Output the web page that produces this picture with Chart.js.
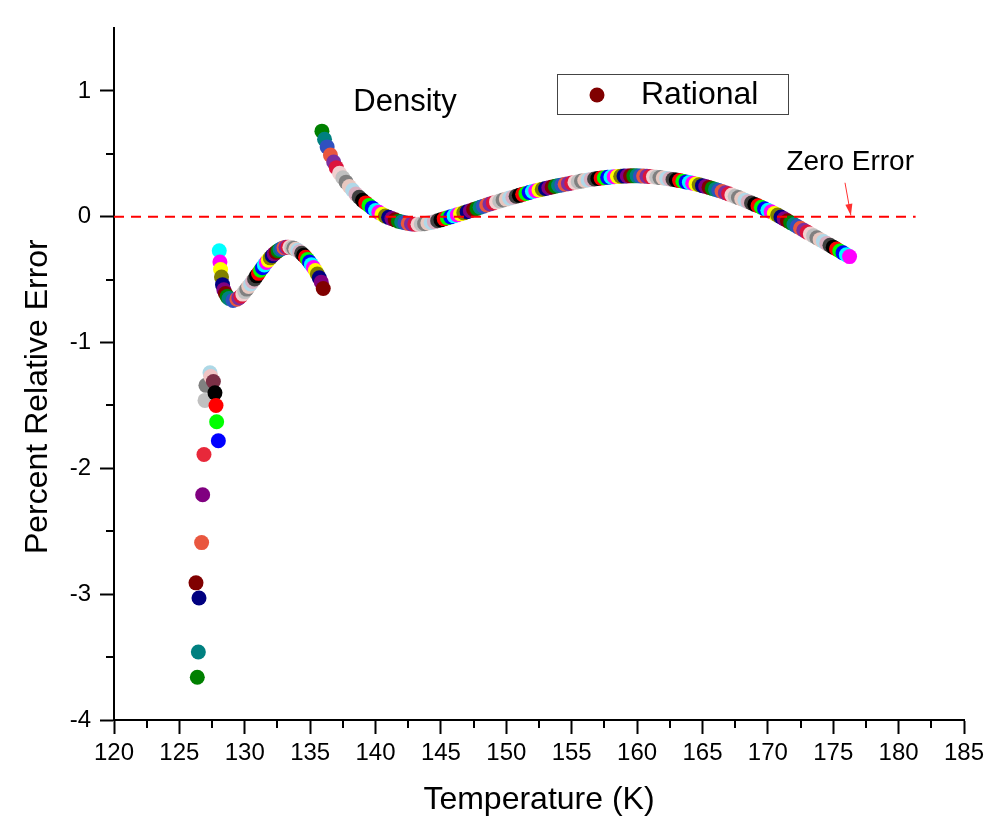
<!DOCTYPE html>
<html>
<head>
<meta charset="utf-8">
<script src="https://cdn.jsdelivr.net/npm/chart.js@4.4.1/dist/chart.umd.min.js"></script>
<style>
  html, body { margin: 0; padding: 0; background: #fff; }
</style>
</head>
<body>
<canvas id="densityChart" width="995" height="832"></canvas>
<script>
// scattered points near 126-128 K
const tempScatter = [126.37, 126.45, 126.5, 126.27, 126.7, 126.78, 126.88, 126.96, 127.03, 127.34, 127.4, 127.6, 127.72, 127.8, 127.85, 127.98]
const errScatter = [-3.66, -3.46, -3.03, -2.91, -2.59, -2.21, -1.89, -1.46, -1.34, -1.24, -1.27, -1.31, -1.40, -1.50, -1.63, -1.78]
const scatterColors = ['#008000', '#008080', '#000080', '#800000', '#e9573f', '#800080', '#e8283a', '#c0c0c0', '#808080', '#add8e6', '#f0c4c4', '#7b3046', '#000000', '#ff0000', '#00ff00', '#0000ff']

// lower branch, 128-136 K
const tempLower = [128.05, 128.1, 128.15, 128.22, 128.3, 128.4, 128.52, 128.65, 128.8, 129.1,
  129.4, 129.55, 129.7, 129.85, 130.0, 130.15, 130.3, 130.45, 130.6, 130.75,
  130.9, 131.05, 131.2, 131.35, 131.5, 131.65, 131.8, 131.95, 132.1, 132.25,
  132.4, 132.55, 132.7, 132.85, 133.0, 133.15, 133.3, 133.45, 133.6, 133.75,
  133.9, 134.05, 134.2, 134.35, 134.5, 134.65, 134.8, 134.95, 135.1, 135.25,
  135.4, 135.55, 135.7, 135.85, 136.0]
const errLower = [-0.27, -0.36, -0.42, -0.48, -0.54, -0.58, -0.61, -0.635, -0.65, -0.665,
  -0.655, -0.645, -0.632, -0.615, -0.595, -0.575, -0.555, -0.535, -0.515, -0.495,
  -0.47, -0.45, -0.425, -0.405, -0.383, -0.363, -0.345, -0.327, -0.31, -0.295,
  -0.282, -0.27, -0.26, -0.252, -0.246, -0.243, -0.242, -0.243, -0.246, -0.251,
  -0.258, -0.267, -0.278, -0.291, -0.306, -0.322, -0.34, -0.36, -0.381, -0.404,
  -0.428, -0.455, -0.485, -0.52, -0.57]

// upper branch, 136-176 K
const tempUpper = [135.9, 136.1, 136.3, 136.55, 136.8, 137.0,
  137.25, 137.5, 137.75, 138.0, 138.25, 138.5, 138.75, 139.0, 139.25, 139.5, 139.75, 140.0,
  140.25, 140.5, 140.75, 141.0, 141.25, 141.5, 141.75, 142.0, 142.25, 142.5, 142.75, 143.0,
  143.25, 143.5, 143.75, 144.0, 144.25, 144.5, 144.75, 145.0, 145.25, 145.5, 145.75, 146.0,
  146.25, 146.5, 146.75, 147.0, 147.25, 147.5, 147.75, 148.0, 148.25, 148.5, 148.75, 149.0,
  149.25, 149.5, 149.75, 150.0, 150.25, 150.5, 150.75, 151.0, 151.25, 151.5, 151.75, 152.0,
  152.25, 152.5, 152.75, 153.0, 153.25, 153.5, 153.75, 154.0, 154.25, 154.5, 154.75, 155.0,
  155.25, 155.5, 155.75, 156.0, 156.25, 156.5, 156.75, 157.0, 157.25, 157.5, 157.75, 158.0,
  158.25, 158.5, 158.75, 159.0, 159.25, 159.5, 159.75, 160.0, 160.25, 160.5, 160.75, 161.0,
  161.25, 161.5, 161.75, 162.0, 162.25, 162.5, 162.75, 163.0, 163.25, 163.5, 163.75, 164.0,
  164.25, 164.5, 164.75, 165.0, 165.25, 165.5, 165.75, 166.0, 166.25, 166.5, 166.75, 167.0,
  167.25, 167.5, 167.75, 168.0, 168.25, 168.5, 168.75, 169.0, 169.25, 169.5, 169.75, 170.0,
  170.25, 170.5, 170.75, 171.0, 171.25, 171.5, 171.75, 172.0, 172.25, 172.5, 172.75, 173.0,
  173.25, 173.5, 173.75, 174.0, 174.25, 174.5, 174.75, 175.0, 175.25, 175.5, 175.75, 176.0,
  176.25]
const errUpper = [0.68, 0.615, 0.555, 0.49, 0.435, 0.39,
  0.345, 0.31, 0.275, 0.24, 0.21, 0.18, 0.155, 0.13, 0.11, 0.09, 0.07, 0.05,
  0.035, 0.02, 0.005, -0.005, -0.015, -0.025, -0.035, -0.042, -0.048, -0.053, -0.057, -0.059,
  -0.06, -0.058, -0.055, -0.05, -0.045, -0.039, -0.032, -0.025, -0.017, -0.009, -0.001, 0.007,
  0.015, 0.023, 0.031, 0.04, 0.048, 0.057, 0.066, 0.075, 0.084, 0.093, 0.101, 0.11,
  0.118, 0.125, 0.133, 0.14, 0.148, 0.155, 0.163, 0.17, 0.178, 0.185, 0.193, 0.2,
  0.206, 0.212, 0.218, 0.224, 0.23, 0.236, 0.242, 0.248, 0.253, 0.258, 0.263, 0.268,
  0.273, 0.278, 0.283, 0.288, 0.292, 0.296, 0.3, 0.304, 0.307, 0.31, 0.313, 0.316,
  0.318, 0.32, 0.322, 0.323, 0.324, 0.325, 0.325, 0.325, 0.324, 0.323, 0.321, 0.319,
  0.317, 0.314, 0.311, 0.308, 0.304, 0.3, 0.296, 0.292, 0.287, 0.282, 0.277, 0.272,
  0.266, 0.26, 0.254, 0.247, 0.24, 0.233, 0.225, 0.217, 0.209, 0.2, 0.191, 0.182,
  0.172, 0.162, 0.152, 0.142, 0.131, 0.12, 0.109, 0.098, 0.087, 0.075, 0.063, 0.051,
  0.039, 0.026, 0.013, -0.002, -0.017, -0.032, -0.047, -0.062, -0.077, -0.092, -0.107, -0.122,
  -0.137, -0.152, -0.167, -0.182, -0.197, -0.212, -0.227, -0.242, -0.257, -0.272, -0.287, -0.302,
  -0.317]

// zero error reference line
const zeroLineT = [120, 181.3]
const zeroLineY = [0, 0]

// warna titik ala Origin, dipakai bergiliran
const palette = ['#000000', '#ff0000', '#00ff00', '#0000ff', '#00ffff', '#ff00ff', '#ffff00', '#808000',
  '#000080', '#800080', '#800000', '#008000', '#008080', '#3050c0', '#e9573f', '#7b2fa0',
  '#dc143c', '#f0d0d0', '#c0c0c0', '#808080', '#e8c8c0', '#b0d8e8', '#d8b0c0', '#404040']

function toPoints(xs, ys) {
  return xs.map((x, i) => ({ x: x, y: ys[i] }))
}

function cycleColors(n, start) {
  const out = []
  for (let i = 0; i < n; i++) out.push(palette[(start + i) % palette.length])
  return out
}

const FONT = 'Arial, "Liberation Sans", sans-serif'
const DOT = 7.5

// minor ticks, judul sumbu Y, teks anotasi dan kotak legenda
const decorPlugin = {
  id: 'decor',
  afterDraw(chart) {
    const ctx = chart.ctx
    const xs = chart.scales.x
    const ys = chart.scales.y
    const area = chart.chartArea
    ctx.save()
    ctx.strokeStyle = '#000'
    ctx.lineWidth = 2
    ctx.beginPath()
    for (let v = 122.5; v < 185; v += 5) {
      const px = Math.round(xs.getPixelForValue(v))
      ctx.moveTo(px, area.bottom)
      ctx.lineTo(px, area.bottom + 8)
    }
    for (let v = -3.5; v < 1.5; v += 1) {
      const py = Math.round(ys.getPixelForValue(v))
      ctx.moveTo(area.left, py)
      ctx.lineTo(area.left - 8, py)
    }
    ctx.stroke()

    // judul sumbu Y (sedikit di bawah tengah, seperti aslinya)
    ctx.fillStyle = '#000'
    ctx.textAlign = 'center'
    ctx.textBaseline = 'middle'
    ctx.font = '32px ' + FONT
    ctx.save()
    ctx.translate(38, ys.getPixelForValue(-1.43))
    ctx.rotate(-Math.PI / 2)
    ctx.fillText('Percent Relative Error', 0, 0)
    ctx.restore()

    // Density label
    ctx.font = '31px ' + FONT
    ctx.fillText('Density', xs.getPixelForValue(142.25), ys.getPixelForValue(0.905))

    // Zero Error + panah
    ctx.font = '28px ' + FONT
    ctx.fillText('Zero Error', xs.getPixelForValue(176.3), ys.getPixelForValue(0.43))
    const ax0 = xs.getPixelForValue(175.9), ay0 = ys.getPixelForValue(0.27)
    const ax1 = xs.getPixelForValue(176.35), ay1 = ys.getPixelForValue(0.01)
    ctx.strokeStyle = '#ff3030'
    ctx.fillStyle = '#ff3030'
    ctx.lineWidth = 1
    ctx.beginPath()
    ctx.moveTo(ax0, ay0)
    ctx.lineTo(ax1, ay1)
    ctx.stroke()
    const ang = Math.atan2(ay1 - ay0, ax1 - ax0)
    ctx.beginPath()
    ctx.moveTo(ax1, ay1)
    ctx.lineTo(ax1 - 12 * Math.cos(ang - 0.3), ay1 - 12 * Math.sin(ang - 0.3))
    ctx.lineTo(ax1 - 12 * Math.cos(ang + 0.3), ay1 - 12 * Math.sin(ang + 0.3))
    ctx.closePath()
    ctx.fill()

    // legend box
    ctx.strokeStyle = '#444'
    ctx.lineWidth = 1
    ctx.strokeRect(557.5, 74.5, 231, 40)
    ctx.fillStyle = '#800000'
    ctx.beginPath()
    ctx.arc(597, 95, DOT, 0, Math.PI * 2)
    ctx.fill()
    ctx.fillStyle = '#000'
    ctx.textAlign = 'left'
    ctx.font = '32px ' + FONT
    ctx.fillText('Rational', 641, 95)
    ctx.restore()
  },
}

const ctx = document.getElementById('densityChart').getContext('2d')

new Chart(ctx, {
  data: {
    datasets: [
      {
        type: 'line',
        label: 'Zero Error',
        data: toPoints(zeroLineT, zeroLineY),
        borderColor: '#ff0000',
        borderWidth: 2,
        borderDash: [10, 7],
        pointRadius: 0,
        order: 0,
      },
      {
        type: 'scatter',
        label: 'Rational',
        data: toPoints(tempScatter, errScatter),
        pointBackgroundColor: scatterColors,
        pointBorderWidth: 0,
        pointRadius: DOT,
        order: 1,
      },
      {
        type: 'scatter',
        label: 'Rational',
        data: toPoints(tempLower, errLower),
        pointBackgroundColor: cycleColors(tempLower.length, 4),
        pointBorderWidth: 0,
        pointRadius: DOT,
        order: 1,
      },
      {
        type: 'scatter',
        label: 'Rational',
        data: toPoints(tempUpper, errUpper),
        pointBackgroundColor: cycleColors(tempUpper.length, 11),
        pointBorderWidth: 0,
        pointRadius: DOT,
        order: 1,
      },
    ],
  },
  options: {
    responsive: false,
    animation: false,
    layout: { padding: { top: 28, right: 31, left: 0, bottom: 0 } },
    plugins: {
      legend: { display: false },
      tooltip: { enabled: false },
    },
    scales: {
      x: {
        type: 'linear',
        min: 120,
        max: 185,
        afterFit: (scale) => { scale.height = 112 },
        border: { display: true, color: '#000', width: 2 },
        grid: { drawOnChartArea: false, drawTicks: true, tickLength: 14, tickColor: '#000', tickWidth: 2 },
        ticks: { stepSize: 5, color: '#000', padding: 5, maxRotation: 0, font: { family: FONT, size: 24 } },
        title: {
          display: true,
          text: 'Temperature (K)',
          color: '#000',
          font: { family: FONT, size: 32 },
          padding: { top: 0, bottom: 13 },
        },
      },
      y: {
        type: 'linear',
        min: -4,
        max: 1.5,
        afterFit: (scale) => { scale.width = 114 },
        border: { display: true, color: '#000', width: 2 },
        grid: { drawOnChartArea: false, drawTicks: true, tickLength: 14, tickColor: '#000', tickWidth: 2 },
        ticks: { stepSize: 1, includeBounds: false, color: '#000', padding: 9, font: { family: FONT, size: 24 } },
      },
    },
  },
  plugins: [decorPlugin],
})
</script>
</body>
</html>
